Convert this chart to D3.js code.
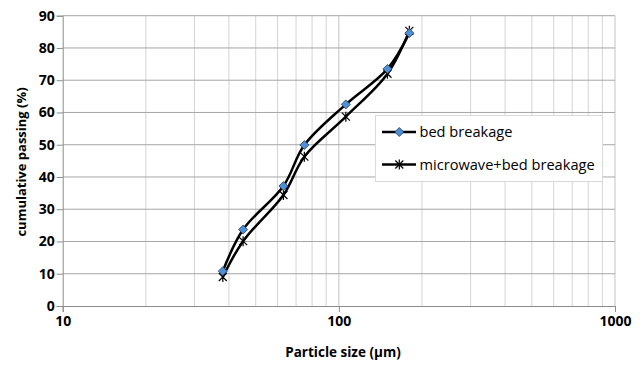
<!DOCTYPE html>
<html>
<head>
<meta charset="utf-8">
<script src="https://cdn.jsdelivr.net/npm/d3@7"></script>
<style>
  body { margin: 0; background: #fff; }
  text { font-family: "Open Sans", "Noto Sans", sans-serif; }
</style>
</head>
<body>
<svg id="chart"></svg>
<script>
// sieve sizes (um)
const sizes = [38, 45, 63, 75, 106, 150, 180];
const bedBreakage = [10.8, 23.7, 37.2, 49.9, 62.5, 73.5, 84.6];
const microwaveBed = [9.0, 20.1, 34.4, 46.3, 58.7, 72.0, 85.3];
const yTicks = [0, 10, 20, 30, 40, 50, 60, 70, 80, 90];
const xTicks = [10, 100, 1000];
const seriesNames = ["bed breakage", "microwave+bed breakage"];

const width = 644, height = 365;
const margin = { top: 15.7, right: 29, bottom: 59, left: 62.7 };

const svg = d3.select("#chart").attr("width", width).attr("height", height);

const x = d3.scaleLog().domain([10, 1000]).range([margin.left, width - margin.right]);
const y = d3.scaleLinear().domain([0, 90]).range([height - margin.bottom, margin.top]);

// minor vertical grid
const minorX = [];
for (let d = 10; d < 1000; d *= 10) {
  for (let k = 2; k <= 9; k++) minorX.push(d * k);
}
svg.append("g")
  .selectAll("line")
  .data(minorX)
  .join("line")
  .attr("x1", (d) => x(d)).attr("x2", (d) => x(d))
  .attr("y1", y(0)).attr("y2", y(90))
  .attr("stroke", "#d4d4d4")
  .attr("stroke-width", 1);

// major vertical grid
svg.append("g")
  .selectAll("line")
  .data(xTicks.slice(1))
  .join("line")
  .attr("x1", (d) => x(d)).attr("x2", (d) => x(d))
  .attr("y1", y(0)).attr("y2", y(90))
  .attr("stroke", "#c4c4c4")
  .attr("stroke-width", 1);

// horizontal grid
svg.append("g")
  .selectAll("line")
  .data(yTicks.slice(1))
  .join("line")
  .attr("x1", x(10)).attr("x2", x(1000))
  .attr("y1", (d) => y(d)).attr("y2", (d) => y(d))
  .attr("stroke", "#a6a6a6")
  .attr("stroke-width", 1);

// axes
const yAxis = svg.append("g")
  .attr("transform", `translate(${margin.left},0)`)
  .call(d3.axisLeft(y).tickValues(yTicks).tickSize(6).tickPadding(2));

const xAxis = svg.append("g")
  .attr("transform", `translate(0,${y(0)})`)
  .call(d3.axisBottom(x).tickValues(xTicks).tickFormat(d3.format("d")).tickSize(6).tickPadding(3));

[yAxis, xAxis].forEach((g) => {
  g.select(".domain").attr("stroke", "#8c8c8c");
  g.selectAll(".tick line").attr("stroke", "#8c8c8c");
  g.selectAll(".tick text")
    .attr("fill", "#000")
    .style("font-size", "14px")
    .style("font-weight", "bold")
    .style("font-family", "'Open Sans', sans-serif");
});
xAxis.selectAll(".tick text").attr("dy", "0.75em");

// axis titles
svg.append("text")
  .attr("x", 343).attr("y", 357)
  .attr("text-anchor", "middle")
  .style("font-size", "13.5px").style("font-weight", "bold")
  .text("Particle  size (μm)");

svg.append("text")
  .attr("transform", "translate(26,162) rotate(-90)")
  .attr("text-anchor", "middle")
  .style("font-size", "13px").style("font-weight", "bold")
  .text("cumulative passing (%)");

// series
const line = d3.line()
  .x((d) => x(d[0]))
  .y((d) => y(d[1]))
  .curve(d3.curveCatmullRom.alpha(0.5));

const bedPts = sizes.map((s, i) => [s, bedBreakage[i]]);
const mwPts = sizes.map((s, i) => [s, microwaveBed[i]]);

[mwPts, bedPts].forEach((pts) => {
  svg.append("path")
    .datum(pts)
    .attr("d", line)
    .attr("fill", "none")
    .attr("stroke", "#000")
    .attr("stroke-width", 2.5);
});

// star marker (asterisk)
function drawStar(g, cx, cy, r) {
  g.append("path")
    .attr("d", `M${cx - r},${cy - r}L${cx + r},${cy + r}M${cx - r},${cy + r}L${cx + r},${cy - r}M${cx},${cy - r - 1}L${cx},${cy + r + 1}`)
    .attr("stroke", "#000")
    .attr("stroke-width", 1.2)
    .attr("fill", "none");
}
function drawDiamond(g, cx, cy, r) {
  g.append("path")
    .attr("d", `M${cx},${cy - r}L${cx + r},${cy}L${cx},${cy + r}L${cx - r},${cy}Z`)
    .attr("fill", "#4f8fd6")
    .attr("stroke", "#1f3a5f")
    .attr("stroke-width", 0.8);
}

const markers = svg.append("g");
mwPts.forEach((d) => drawStar(markers, x(d[0]), y(d[1]), 4));
bedPts.forEach((d) => drawDiamond(markers, x(d[0]), y(d[1]), 4.5));

// legend
const legend = svg.append("g");
legend.append("rect")
  .attr("x", 375.5).attr("y", 115.5)
  .attr("width", 227).attr("height", 66)
  .attr("fill", "#fff")
  .attr("stroke", "#d9d9d9");

const rows = [132, 164.5];
seriesNames.forEach((name, i) => {
  legend.append("line")
    .attr("x1", 382).attr("x2", 416)
    .attr("y1", rows[i]).attr("y2", rows[i])
    .attr("stroke", "#000").attr("stroke-width", 2.5);
  if (i === 0) drawDiamond(legend, 399.3, rows[i], 4.5);
  else drawStar(legend, 399.3, rows[i], 4);
  legend.append("text")
    .attr("x", 419.5).attr("y", rows[i])
    .attr("dy", "0.35em")
    .style("font-size", "14.6px")
    .text(name);
});
</script>
</body>
</html>
